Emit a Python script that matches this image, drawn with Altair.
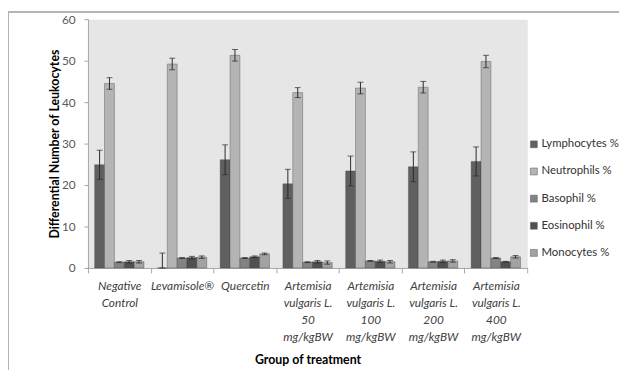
import altair as alt
import pandas as pd

groups = [
    "Negative\nControl",
    "Levamisole®",
    "Quercetin",
    "Artemisia\nvulgaris L.\n50\nmg/kgBW",
    "Artemisia\nvulgaris L.\n100\nmg/kgBW",
    "Artemisia\nvulgaris L.\n200\nmg/kgBW",
    "Artemisia\nvulgaris L.\n400\nmg/kgBW",
]
series = ["Lymphocytes %", "Neutrophils %", "Basophil %", "Eosinophil %", "Monocytes %"]

lymph = [24.9, 0.0, 26.1, 20.3, 23.4, 24.4, 25.7]
lymph_err = [3.5, 3.6, 3.6, 3.5, 3.6, 3.6, 3.5]
neut = [44.5, 49.2, 51.3, 42.3, 43.4, 43.6, 49.8]
neut_err = [1.4, 1.4, 1.4, 1.2, 1.4, 1.4, 1.5]
baso = [1.4, 2.4, 2.4, 1.4, 1.7, 1.5, 2.4]
baso_err = [0.1, 0.1, 0.1, 0.1, 0.1, 0.1, 0.1]
eos = [1.5, 2.5, 2.7, 1.5, 1.6, 1.6, 1.5]
eos_err = [0.3, 0.3, 0.2, 0.3, 0.3, 0.3, 0.1]
mono = [1.5, 2.6, 3.4, 1.3, 1.5, 1.7, 2.7]
mono_err = [0.3, 0.3, 0.2, 0.4, 0.3, 0.3, 0.3]

colors = ["#606060", "#b4b4b4", "#838383", "#505050", "#a2a2a2"]

rows = []
for s, vals, errs in zip(series, [lymph, neut, baso, eos, mono],
                         [lymph_err, neut_err, baso_err, eos_err, mono_err]):
    for g, v, e in zip(groups, vals, errs):
        rows.append({"group": g, "series": s, "value": v,
                     "lo": max(0.0, v - e), "hi": v + e})
df = pd.DataFrame(rows)

x_enc = alt.X("group:N", sort=groups,
              scale=alt.Scale(paddingInner=0, paddingOuter=0),
              axis=alt.Axis(title="Group of treatment", labelExpr="split(datum.label, '\\n')",
                            labelAngle=0, labelFont="Lato", labelFontStyle="italic",
                            labelFontSize=12, labelColor="#404040", labelLineHeight=17,
                            labelPadding=8, tickBand="extent", tickSize=5,
                            tickColor="#a6a6a6", domainColor="#a6a6a6",
                            titleFont="Lato", titleFontWeight="bold", titleFontSize=12.5,
                            titleColor="#000000", titlePadding=12))
xo_enc = alt.XOffset("series:N", sort=series,
                     scale=alt.Scale(paddingInner=0, paddingOuter=0.68))
y_scale = alt.Scale(domain=[0, 60])

bars = alt.Chart(df).mark_bar(stroke="#3c3c3c", strokeWidth=0.6, strokeOpacity=0.6).encode(
    x=x_enc,
    xOffset=xo_enc,
    y=alt.Y("value:Q", scale=y_scale,
            axis=alt.Axis(title="Differential Number of Leukocytes", values=[0, 10, 20, 30, 40, 50, 60],
                          grid=False, tickSize=4, tickColor="#a6a6a6", domainColor="#a6a6a6",
                          labelFont="Lato", labelFontSize=12, labelColor="#595959",
                          labelPadding=9, titleFont="Lato", titleFontWeight="bold",
                          titleFontSize=12.5, titleColor="#000000", titlePadding=0)),
    color=alt.Color("series:N", sort=series,
                    scale=alt.Scale(domain=series, range=colors),
                    legend=alt.Legend(title=None, orient="none", legendX=446, legendY=121,
                                      symbolType="square", symbolSize=49,
                                      symbolStrokeColor="#6a6a6a", symbolStrokeWidth=0.6,
                                      labelFont="Lato", labelFontSize=11.5, labelColor="#333333",
                                      labelOffset=2, rowPadding=14.5)),
)

err = alt.Chart(df).mark_rule(color="#2a2a2a", strokeWidth=1).encode(
    x=alt.X("group:N", sort=groups), xOffset=alt.XOffset("series:N", sort=series),
    y=alt.Y("lo:Q", scale=y_scale), y2="hi:Q")
cap_hi = alt.Chart(df).mark_tick(color="#2a2a2a", thickness=1, size=6).encode(
    x=alt.X("group:N", sort=groups), xOffset=alt.XOffset("series:N", sort=series),
    y=alt.Y("hi:Q", scale=y_scale))
cap_lo = alt.Chart(df).mark_tick(color="#2a2a2a", thickness=1, size=6).encode(
    x=alt.X("group:N", sort=groups), xOffset=alt.XOffset("series:N", sort=series),
    y=alt.Y("lo:Q", scale=y_scale))

frame_top = alt.Chart(df).mark_rule(color="#b4b4b4", strokeWidth=1).encode(
    x=alt.value(-81), x2=alt.value(540), y=alt.value(-7.5))
frame_left = alt.Chart(df).mark_rule(color="#b4b4b4", strokeWidth=1).encode(
    x=alt.value(-80.5), y=alt.value(-8), y2=alt.value(370))

chart = alt.layer(bars, err, cap_hi, cap_lo, frame_top, frame_left).properties(
    width=445, height=252,
    autosize=alt.AutoSizeParams(type="none"),
    padding={"left": 81, "top": 9, "right": 93, "bottom": 101},
    background="#ffffff",
).configure_view(fill="#e6e6e6", strokeOpacity=0)

chart.save("out.html", embed_options={"renderer": "svg", "actions": False})
